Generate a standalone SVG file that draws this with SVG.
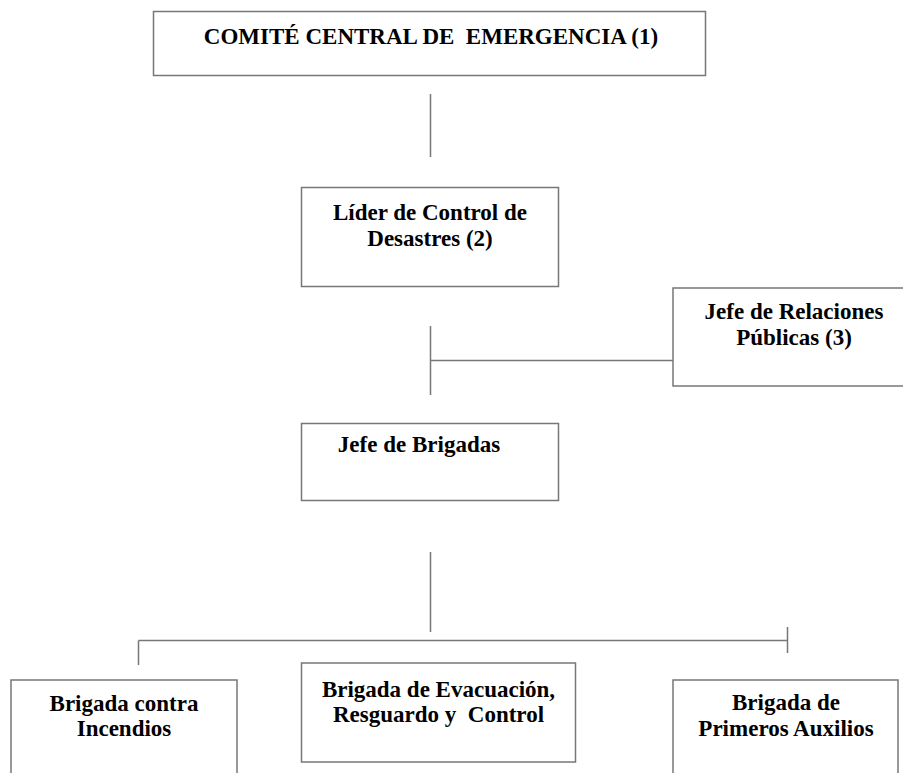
<svg xmlns="http://www.w3.org/2000/svg" width="903" height="773" viewBox="0 0 903 773">
<style>
  .box { fill: #ffffff; stroke: #777777; stroke-width: 1.5; }
  .ln { stroke: #777777; stroke-width: 1.5; fill: none; }
  .t { font-family: "Liberation Serif", "Times New Roman", serif; font-weight: bold; font-size: 23px; fill: #000000; text-anchor: middle; white-space: pre; }
</style>
<rect x="0" y="0" width="903" height="773" fill="#ffffff"/>
<g id="connectors">
  <line class="ln" x1="430.5" y1="94" x2="430.5" y2="157"/>
  <line class="ln" x1="430.5" y1="326" x2="430.5" y2="395"/>
  <line class="ln" x1="430.5" y1="360.5" x2="673" y2="360.5"/>
  <line class="ln" x1="430.5" y1="552" x2="430.5" y2="632"/>
  <line class="ln" x1="138.5" y1="640.5" x2="787" y2="640.5"/>
  <line class="ln" x1="138.5" y1="640.5" x2="138.5" y2="665"/>
  <line class="ln" x1="787.5" y1="627" x2="787.5" y2="653"/>
</g>
<g id="comite">
  <rect class="box" x="153.5" y="11.5" width="552" height="64"/>
  <text class="t" x="431" y="44" xml:space="preserve">COMITÉ CENTRAL DE  EMERGENCIA (1)</text>
</g>
<g id="lider">
  <rect class="box" x="301.5" y="187.5" width="257" height="99"/>
  <text class="t" x="430" y="220">Líder de Control de</text>
  <text class="t" x="430" y="246">Desastres (2)</text>
</g>
<g id="relaciones">
  <rect class="box" x="673" y="288" width="250" height="98"/>
  <text class="t" x="794" y="319">Jefe de Relaciones</text>
  <text class="t" x="794" y="345">Públicas (3)</text>
</g>
<g id="jefe-brigadas">
  <rect class="box" x="301.5" y="423.5" width="257" height="77"/>
  <text class="t" x="419" y="452">Jefe de Brigadas</text>
</g>
<g id="incendios">
  <rect class="box" x="11" y="680" width="226" height="110"/>
  <text class="t" x="124" y="711">Brigada contra</text>
  <text class="t" x="124" y="736">Incendios</text>
</g>
<g id="evacuacion">
  <rect class="box" x="301.5" y="663" width="274" height="99"/>
  <text class="t" x="438.5" y="697">Brigada de Evacuación,</text>
  <text class="t" x="438.5" y="722" xml:space="preserve">Resguardo y  Control</text>
</g>
<g id="auxilios">
  <rect class="box" x="673" y="680" width="225" height="110"/>
  <text class="t" x="786" y="710">Brigada de</text>
  <text class="t" x="786" y="736">Primeros Auxilios</text>
</g>
</svg>
